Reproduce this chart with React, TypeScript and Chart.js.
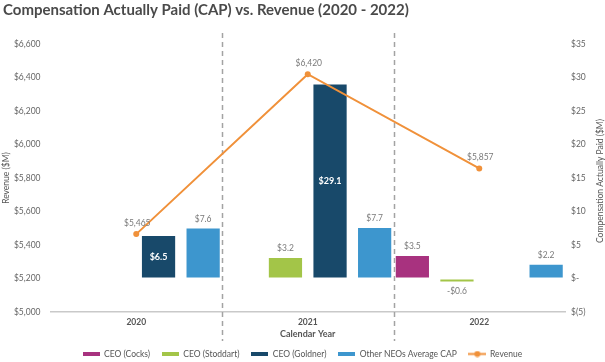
import React, { useEffect, useRef } from 'react';
import { Chart, registerables } from 'chart.js';

Chart.register(...registerables);

const years = ['2020', '2021', '2022'];
const capCocks: (number | null)[] = [null, null, 3.5];
const capStoddart: (number | null)[] = [null, 3.2, -0.6];
const capGoldner: (number | null)[] = [6.5, 29.1, null];
const capOtherNeos: (number | null)[] = [7.6, 7.7, 2.2];
const revenue = [5465, 6420, 5857];

const barNames = ['CEO (Cocks)', 'CEO (Stoddart)', 'CEO (Goldner)', 'Other NEOs Average CAP'];
const lineName = 'Revenue';
const barColors = ['#A8327F', '#A3C548', '#18496A', '#3D96CE'];
const lineColor = '#F0913A';

const revenueMin = 5000;
const revenueMax = 6600;
const revenueStep = 200;
const capMin = -5;
const capMax = 35;
const capStep = 5;

const titleText = 'Compensation Actually Paid (CAP) vs. Revenue (2020 - 2022)';
const xTitle = 'Calendar Year';
const leftTitle = 'Revenue ($M)';
const rightTitle = 'Compensation Actually Paid ($M)';

const FONT = 'Lato, "Open Sans", sans-serif';

const fmtRevenue = (v: number) => '$' + v.toLocaleString('en-US');
const fmtCap = (v: number) => (v === 0 ? '$-' : v < 0 ? `$(${-v})` : `$${v}`);
const fmtBarLabel = (v: number) => (v < 0 ? `-$${(-v).toFixed(1)}` : `$${v.toFixed(1)}`);

function makeSwatch(color: string) {
  const c = document.createElement('canvas');
  c.width = 17;
  c.height = 4;
  const ctx = c.getContext('2d')!;
  ctx.fillStyle = color;
  ctx.fillRect(0, 0, 17, 4);
  return c;
}

function makeLineSwatch(color: string) {
  const c = document.createElement('canvas');
  c.width = 18;
  c.height = 7;
  const ctx = c.getContext('2d')!;
  ctx.strokeStyle = color;
  ctx.lineWidth = 2;
  ctx.beginPath();
  ctx.moveTo(0, 3.5);
  ctx.lineTo(18, 3.5);
  ctx.stroke();
  ctx.fillStyle = color;
  ctx.beginPath();
  ctx.arc(9, 3.5, 3, 0, Math.PI * 2);
  ctx.fill();
  return c;
}

const titlePlugin = {
  id: 'customTitle',
  afterDraw(chart: any) {
    const { ctx, chartArea } = chart;
    ctx.save();
    ctx.font = `bold 15px ${FONT}`;
    ctx.fillStyle = '#4a4a4a';
    ctx.textBaseline = 'middle';
    ctx.textAlign = 'left';
    ctx.fillText(titleText, 3, 10);
    // right axis title, reading bottom-to-top
    ctx.translate(600, (chartArea.top + chartArea.bottom) / 2 + 3);
    ctx.rotate(-Math.PI / 2);
    ctx.textAlign = 'center';
    ctx.font = `8.5px ${FONT}`;
    ctx.fillStyle = '#555';
    ctx.fillText(rightTitle, 0, 0);
    ctx.restore();
  },
};

const separatorPlugin = {
  id: 'separators',
  beforeDatasetsDraw(chart: any) {
    const { ctx, chartArea } = chart;
    const n = years.length;
    const w = (chartArea.right - chartArea.left) / n;
    ctx.save();
    ctx.strokeStyle = '#a3a3a3';
    ctx.lineWidth = 1.5;
    ctx.setLineDash([5, 4]);
    for (let k = 1; k < n; k++) {
      const x = Math.round(chartArea.left + k * w) + 0.5;
      ctx.beginPath();
      ctx.moveTo(x, 33);
      ctx.lineTo(x, 341);
      ctx.stroke();
    }
    ctx.restore();
  },
};

const labelPlugin = {
  id: 'valueLabels',
  afterDatasetsDraw(chart: any) {
    const ctx = chart.ctx;
    ctx.save();
    ctx.textAlign = 'center';
    ctx.textBaseline = 'middle';
    chart.data.datasets.forEach((ds: any, di: number) => {
      const meta = chart.getDatasetMeta(di);
      meta.data.forEach((el: any, i: number) => {
        const v = ds.data[i];
        if (v === null || v === undefined) return;
        if (ds.type === 'line') {
          ctx.font = `8.5px ${FONT}`;
          ctx.fillStyle = '#7a7a7a';
          ctx.fillText(fmtRevenue(v), el.x + 1, el.y - 11);
        } else if (di === 3) {
          ctx.font = `bold 9px ${FONT}`;
          ctx.fillStyle = '#ffffff';
          ctx.fillText(fmtBarLabel(v), el.x, (el.y + el.base) / 2);
        } else {
          ctx.font = `8.5px ${FONT}`;
          ctx.fillStyle = '#7a7a7a';
          if (v >= 0) ctx.fillText(fmtBarLabel(v), el.x, el.y - 8.5);
          else ctx.fillText(fmtBarLabel(v), el.x, el.y + 9);
        }
      });
    });
    ctx.restore();
  },
};

export default function App() {
  const ref = useRef<HTMLCanvasElement>(null);

  useEffect(() => {
    if (!ref.current) return;
    const swatches = [...barColors.map(makeSwatch), makeLineSwatch(lineColor)];
    const barData = [capCocks, capStoddart, capGoldner, capOtherNeos];

    const chart = new Chart(ref.current, {
      type: 'bar',
      data: {
        labels: years,
        datasets: [
          {
            type: 'line',
            label: lineName,
            data: revenue,
            yAxisID: 'y',
            borderColor: lineColor,
            backgroundColor: lineColor,
            borderWidth: 2,
            pointRadius: 3,
            pointBackgroundColor: lineColor,
            pointBorderWidth: 0,
            tension: 0,
            order: 0,
          } as any,
          ...barData.map((d, k) => ({
            type: 'bar',
            label: barNames[k],
            data: d,
            yAxisID: 'y1',
            backgroundColor: barColors[k],
            borderColor: 'rgba(255,255,255,0.55)',
            borderWidth: 1,
            borderSkipped: false,
            categoryPercentage: 1.04,
            barPercentage: 0.79,
            order: 1,
          })),
        ],
      },
      options: {
        responsive: false,
        animation: false,
        devicePixelRatio: 1,
        layout: { padding: { top: 44, bottom: -6.25, left: 0, right: 0 } },
        plugins: {
          title: { display: false },
          tooltip: { enabled: false },
          legend: {
            position: 'bottom',
            labels: {
              usePointStyle: true,
              pointStyleWidth: 17,
              padding: 12,
              color: '#555',
              font: { family: FONT, size: 8.5 },
              generateLabels: () => {
                const names = [...barNames, lineName];
                return names.map((text, i) => ({
                  text,
                  fillStyle: i < 4 ? barColors[i] : lineColor,
                  strokeStyle: 'transparent',
                  lineWidth: 0,
                  pointStyle: swatches[i],
                  hidden: false,
                  datasetIndex: i < 4 ? i + 1 : 0,
                  fontColor: '#555',
                })) as any;
              },
            },
          },
        },
        scales: {
          x: {
            offset: true,
            grid: { display: false, drawTicks: false },
            border: { display: true, color: '#c9c9c9', width: 1.5 },
            ticks: { padding: 5.5, color: '#555', font: { family: FONT, size: 8.5, weight: 'bold' } },
            title: {
              display: true,
              text: xTitle,
              color: '#555',
              font: { family: FONT, size: 9, weight: 'bold' },
              padding: { top: 0, bottom: -2 },
            },
            afterFit: (s: any) => {
              s.height = 25.75;
            },
          },
          y: {
            position: 'left',
            min: revenueMin,
            max: revenueMax,
            grid: { display: false, drawTicks: false },
            border: { display: false },
            ticks: {
              stepSize: revenueStep,
              padding: 10,
              color: '#666',
              font: { family: FONT, size: 8.5 },
              callback: (v: any) => fmtRevenue(Number(v)),
            },
            title: {
              display: true,
              text: leftTitle,
              color: '#555',
              font: { family: FONT, size: 8.5 },
              padding: { top: 1, bottom: 0 },
            },
            afterFit: (s: any) => {
              s.width = 50.5;
            },
          },
          y1: {
            position: 'right',
            min: capMin,
            max: capMax,
            grid: { display: false, drawTicks: false },
            border: { display: false },
            ticks: {
              stepSize: capStep,
              padding: 6,
              color: '#666',
              font: { family: FONT, size: 8.5 },
              callback: (v: any) => fmtCap(Number(v)),
            },
            title: { display: false },
            afterFit: (s: any) => {
              s.width = 40;
            },
          },
        },
      } as any,
      plugins: [titlePlugin, separatorPlugin, labelPlugin],
    });

    return () => chart.destroy();
  }, []);

  return (
    <div style={{ position: 'absolute', left: 0, top: 0, width: 605, height: 362, background: '#fff' }}>
      <canvas ref={ref} width={605} height={362} style={{ display: 'block' }} />
    </div>
  );
}
